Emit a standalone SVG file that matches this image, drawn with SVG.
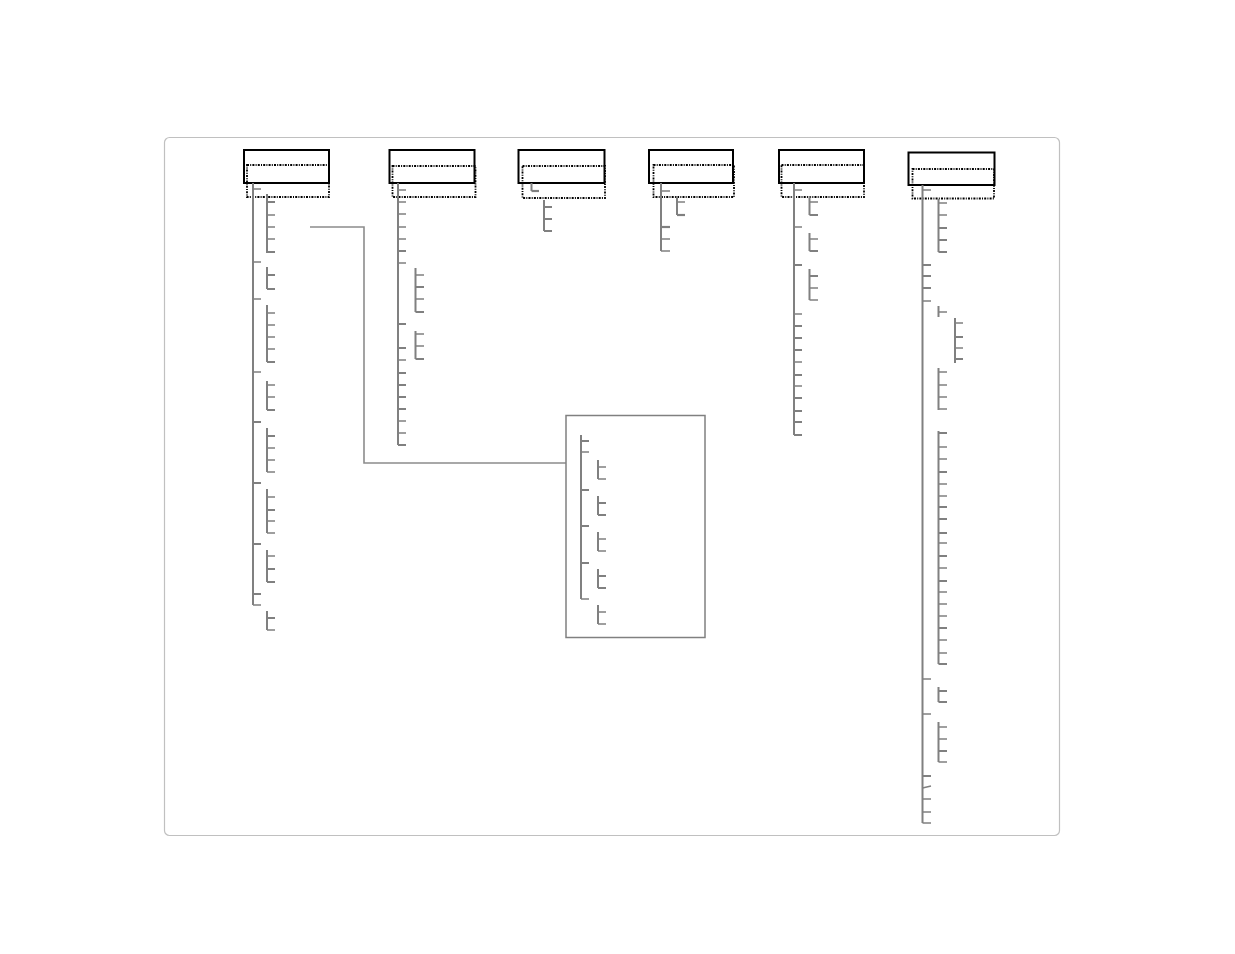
<svg xmlns="http://www.w3.org/2000/svg" width="1235" height="954" viewBox="0 0 1235 954">
<style>
.frame{fill:none;stroke:#c0c0c0;stroke-width:1.2}
.box{fill:#fff;stroke:#000;stroke-width:2}
.dot{fill:none;stroke:#000;stroke-width:1.8;stroke-dasharray:2 1.2 1 1.2}
.v{fill:none;stroke:#808080;stroke-width:2}
.t{fill:none;stroke:#808080;stroke-width:1.5}
.tk{fill:none;stroke:#808080;stroke-width:2.2}
.link{fill:none;stroke:#8c8c8c;stroke-width:1.6}
.inset{fill:#fff;stroke:#808080;stroke-width:1.5}
</style>
<rect class="frame" x="164.5" y="137.5" width="895" height="698" rx="5"/>
<g id="connectors">
<path class="link" d="M310 227 H364 V463 H566"/>
</g>
<g id="tree1">
<rect class="box" x="244" y="150" width="85" height="33"/>
<rect class="dot" x="247" y="165" width="82" height="32"/>
<path class="v" d="M253 183 V605"/>
<path class="t" d="M253 189 H261 M253 262 H261 M253 299 H261 M253 372 H261 M253 605 H261"/>
<path class="tk" d="M253 422 H261 M253 483 H261 M253 544 H261 M253 594 H261"/>
<path class="v" d="M267 194 V253 M267 267 V289 M267 305 V362 M267 381 V410 M267 428 V472 M267 489 V533 M267 550 V582 M267 611 V630"/>
<path class="t" d="M267 215 H275 M267 227 H275 M267 239 H275 M267 313 H275 M267 325 H275 M267 337 H275 M267 349 H275 M267 385 H275 M267 397 H275 M267 448 H275 M267 460 H275 M267 472 H275 M267 497 H275 M267 521 H275 M267 533 H275 M267 556 H275 M267 630 H275"/>
<path class="tk" d="M267 202 H275 M267 252 H275 M267 275 H275 M267 289 H275 M267 362 H275 M267 410 H275 M267 436 H275 M267 510 H275 M267 569 H275 M267 582 H275 M267 618 H275"/>
</g>
<g id="tree2">
<rect class="box" x="389.5" y="150" width="85" height="33"/>
<rect class="dot" x="392.5" y="166" width="83" height="31"/>
<path class="v" d="M398 183 V445"/>
<path class="t" d="M398 190 H406 M398 202 H406 M398 214 H406 M398 227 H406 M398 239 H406 M398 263 H406 M398 360 H406 M398 421 H406 M398 433 H406"/>
<path class="tk" d="M398 251 H406 M398 324 H406 M398 348 H406 M398 373 H406 M398 385 H406 M398 397 H406 M398 409 H406 M398 445 H406"/>
<path class="v" d="M415.5 268 V312 M415.5 331 V359"/>
<path class="t" d="M415.5 275 H424 M415.5 299 H424 M415.5 334 H424 M415.5 346 H424"/>
<path class="tk" d="M415.5 287 H424 M415.5 312 H424 M415.5 359 H424"/>
</g>
<g id="tree3">
<rect class="box" x="518.5" y="150" width="86" height="33"/>
<rect class="dot" x="522.5" y="166" width="82.5" height="32"/>
<path class="v" d="M531.5 183 V191"/>
<path class="tk" d="M531.5 191 H539"/>
<path class="v" d="M544 200 V231"/>
<path class="tk" d="M544 207 H552 M544 219 H552 M544 231 H552"/>
</g>
<g id="tree4">
<rect class="box" x="649" y="150" width="84" height="33"/>
<rect class="dot" x="653.5" y="165" width="80.5" height="32"/>
<path class="v" d="M661 183 V251"/>
<path class="t" d="M661 191 H670 M661 239 H670 M661 251 H670"/>
<path class="tk" d="M661 227 H670"/>
<path class="v" d="M677 196 V215"/>
<path class="t" d="M677 202 H685"/>
<path class="tk" d="M677 215 H685"/>
</g>
<g id="tree5">
<rect class="box" x="779" y="150" width="85" height="33"/>
<rect class="dot" x="781.5" y="165" width="82.5" height="32"/>
<path class="v" d="M794 183 V435"/>
<path class="t" d="M794 190 H802 M794 227 H802 M794 314 H802 M794 362 H802 M794 386 H802"/>
<path class="tk" d="M794 265 H802 M794 326 H802 M794 338 H802 M794 350 H802 M794 375 H802 M794 398 H802 M794 411 H802 M794 422 H802 M794 435 H802"/>
<path class="v" d="M809.5 196 V215 M809.5 233 V251 M809.5 269 V300"/>
<path class="t" d="M809.5 202 H818 M809.5 239 H818 M809.5 288 H818 M809.5 300 H818"/>
<path class="tk" d="M809.5 215 H818 M809.5 251 H818 M809.5 276 H818"/>
</g>
<g id="tree6">
<rect class="box" x="908.5" y="152.5" width="86" height="32.5"/>
<rect class="dot" x="912.5" y="169" width="81.5" height="29.5"/>
<path class="v" d="M922.5 185 V823"/>
<path class="t" d="M922.5 190 H931 M922.5 301 H931 M922.5 679 H931 M922.5 714 H931 M922.5 799 H931 M922.5 812 H931 M922.5 823 H931 M922.5 788 L931 786"/>
<path class="tk" d="M922.5 265 H931 M922.5 276 H931 M922.5 288 H931 M922.5 776 H931"/>
<path class="v" d="M938.5 199 V252 M938.5 306 V317 M938.5 368 V410 M938.5 431 V664 M938.5 687 V702 M938.5 722 V762"/>
<path class="t" d="M938.5 203 H947 M938.5 215 H947 M938.5 312 H947 M938.5 372 H947 M938.5 385 H947 M938.5 397 H947 M938.5 409 H947 M938.5 447 H947 M938.5 459 H947 M938.5 484 H947 M938.5 496 H947 M938.5 543 H947 M938.5 568 H947 M938.5 592 H947 M938.5 604 H947 M938.5 616 H947 M938.5 640 H947 M938.5 653 H947 M938.5 727 H947 M938.5 739 H947 M938.5 762 H947"/>
<path class="tk" d="M938.5 228 H947 M938.5 240 H947 M938.5 252 H947 M938.5 433 H947 M938.5 472 H947 M938.5 507 H947 M938.5 519 H947 M938.5 533 H947 M938.5 556 H947 M938.5 581 H947 M938.5 628 H947 M938.5 664 H947 M938.5 691 H947 M938.5 702 H947 M938.5 751 H947"/>
<path class="v" d="M955 318 V363"/>
<path class="t" d="M955 323 H963 M955 348 H963"/>
<path class="tk" d="M955 337 H963 M955 359 H963"/>
</g>
<g id="inset">
<rect class="inset" x="566" y="415.5" width="139" height="222"/>
<path class="v" d="M581 435 V599"/>
<path class="t" d="M581 452 H589 M581 599 H589"/>
<path class="tk" d="M581 441 H589 M581 490 H589 M581 526 H589 M581 563 H589"/>
<path class="v" d="M598 460 V479 M598 496 V515 M598 532 V551 M598 569 V588 M598 605 V624"/>
<path class="t" d="M598 467 H606 M598 479 H606 M598 539 H606 M598 551 H606 M598 612 H606 M598 624 H606"/>
<path class="tk" d="M598 503 H606 M598 515 H606 M598 576 H606 M598 588 H606"/>
</g>
</svg>
